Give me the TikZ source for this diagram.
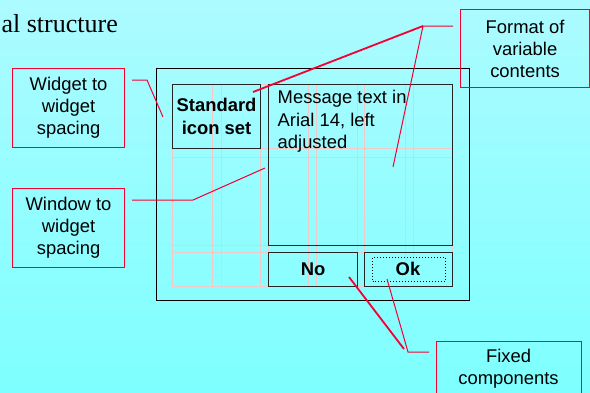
\documentclass[tikz,border=0pt]{standalone}
\usepackage{fontspec}
\setmainfont{Liberation Serif}
\newfontfamily\arial{Liberation Sans}
\definecolor{bgtop}{RGB}{172,251,255}
\definecolor{bgbot}{RGB}{126,255,255}
\definecolor{callout}{RGB}{245,0,50}
\definecolor{gridpink}{RGB}{242,200,200}
\tikzset{
  labelfont/.style={font=\arial\fontsize{18.4bp}{22bp}\selectfont},
  calloutbox/.style={draw=callout, line width=1.1bp, labelfont, align=center, inner sep=0pt, anchor=north west},
  widget/.style={draw=black!85, line width=1.1bp, inner sep=0pt, anchor=north west},
  leader/.style={draw=callout, line width=1bp},
  leaderthick/.style={draw=callout, line width=1.8bp},
  guide/.style={draw=gridpink, line width=0.8bp},
}
\begin{document}
\begin{tikzpicture}[x=1bp,y=-1bp]
  % page background
  \shade[top color=bgtop, bottom color=bgbot] (0,0) rectangle (590,392);
  \useasboundingbox (0,0) rectangle (590,392);

  % slide heading (partly cut off at the left)
  \node[anchor=base east, inner sep=0pt, font=\fontsize{26bp}{30bp}\selectfont] (heading) at (118,32) {al structure};

  % layout guides
  \foreach \gx in {172,212,221,260,268,308,316,357,364,405,413,452}
    \draw[guide] (\gx,84) -- (\gx,286);
  \foreach \gy in {84,148,157,245,252,286}
    \draw[guide] (172,\gy) -- (452,\gy);

  % dialog window and its widgets
  \node[draw=black, line width=1.3bp, inner sep=0pt, anchor=north west, minimum width=313bp, minimum height=232bp] (win) at (156,68) {};
  \node[widget, minimum width=88bp, minimum height=64bp, font=\arial\bfseries\fontsize{18.4bp}{23bp}\selectfont, align=center] (icon) at (172,84) {Standard\\[-0.5bp]icon set};
  \node[widget, minimum width=184bp, minimum height=161bp] (msg) at (268,84) {};
  \node[anchor=north west, inner sep=0pt, align=left, labelfont, font=\arial\fontsize{18.4bp}{22.5bp}\selectfont] (msgtext) at (277.5,90) {Message text in\\Arial 14, left\\adjusted};
  \node[widget, minimum width=89bp, minimum height=34bp, font=\arial\bfseries\fontsize{18.4bp}{22bp}\selectfont] (no) at (268,252) {No};
  \node[widget, minimum width=88bp, minimum height=34bp] (ok) at (364,252) {};
  \node[draw=black, dotted, line width=1bp, inner sep=0pt, anchor=north west, minimum width=73bp, minimum height=24bp] (okfocus) at (372,257) {};
  \node[font=\arial\bfseries\fontsize{18.4bp}{22bp}\selectfont, inner sep=0pt] (oktext) at (408,269) {Ok};

  % callout boxes
  \node[calloutbox, minimum width=112bp, minimum height=79bp] (wlab) at (12,68) {Widget to\\widget\\spacing};
  \node[calloutbox, minimum width=112bp, minimum height=79bp] (winlab) at (12,188) {Window to\\widget\\spacing};
  \node[calloutbox, minimum width=129bp, minimum height=78bp] (fmt) at (460,9) {Format of\\variable\\contents};
  \node[draw=callout, line width=1.1bp, inner sep=0pt, anchor=north west, minimum width=145bp, minimum height=60bp] (fix) at (436,341) {};
  \node[labelfont, align=center, inner sep=0pt] (fixtext) at (508.5,369) {Fixed\\components};

  % leader line end points
  \coordinate (wa) at (132,80);
  \coordinate (wb) at (147,80);
  \coordinate (wc) at (163,117);
  \coordinate (na) at (132,200);
  \coordinate (nb) at (193,200);
  \coordinate (nc) at (265,168);
  \coordinate (fa) at (453,26);
  \coordinate (fb) at (423,26);
  \coordinate (fc) at (393,167);
  \coordinate (fd) at (253,92);
  \coordinate (xa) at (429,352);
  \coordinate (xb) at (408,352);
  \coordinate (xc) at (387,279);
  \coordinate (xd) at (404,349);
  \coordinate (xe) at (349,277);

  % leader lines
  \draw[leader] (wa) -- (wb) -- (wc);
  \draw[leader] (na) -- (nb) -- (nc);
  \draw[leader] (fa) -- (fb) -- (fc);
  \draw[leaderthick] (fb) -- (fd);
  \draw[leader] (xa) -- (xb) -- (xc);
  \draw[leaderthick] (xd) -- (xe);
\end{tikzpicture}
\end{document}
